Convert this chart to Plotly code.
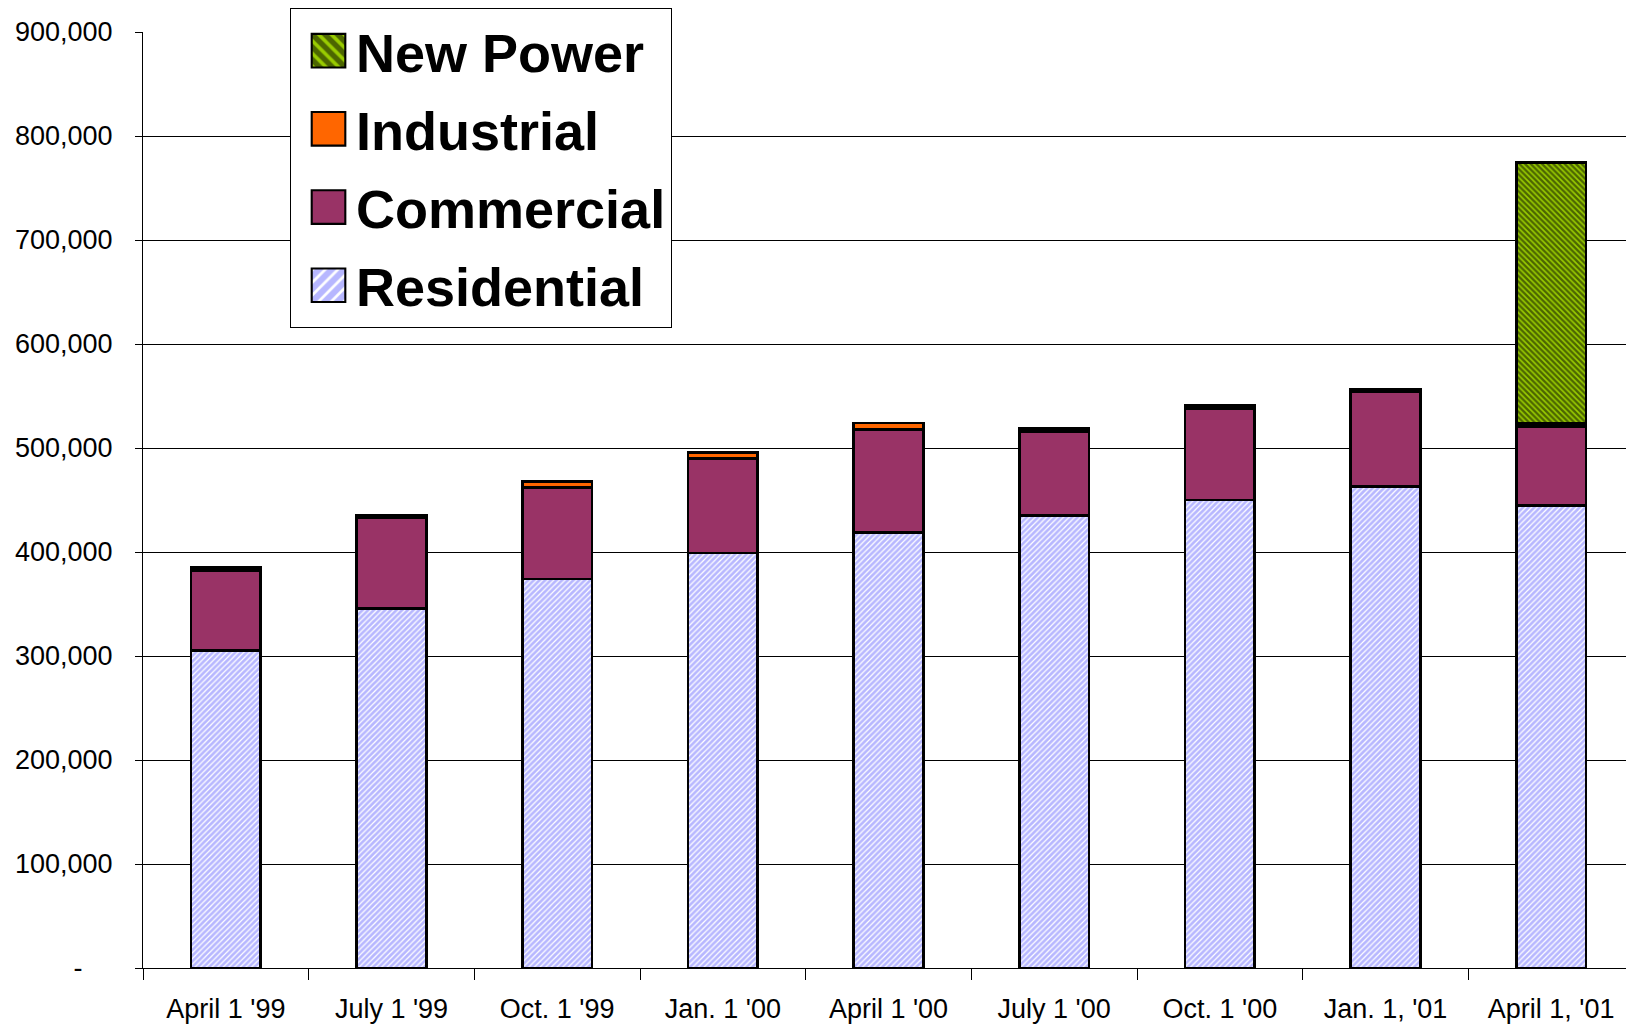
import plotly.graph_objects as go

categories = ["April 1 '99", "July 1 '99", "Oct. 1 '99", "Jan. 1 '00", "April 1 '00",
              "July 1 '00", "Oct. 1 '00", "Jan. 1, '01", "April 1, '01"]
residential = [305000, 346000, 374000, 399000, 419000, 435000, 450000, 463000, 445000]
commercial = [77000, 87000, 88000, 91000, 99000, 81000, 88000, 91000, 76000]
industrial = [3000, 2500, 6000, 6000, 6000, 2500, 3000, 2500, 2500]
new_power = [None, None, None, None, None, None, None, None, 251000]

y_tickvals = [0, 100000, 200000, 300000, 400000, 500000, 600000, 700000, 800000, 900000]
y_ticktext = ["-\u00a0\u00a0\u00a0\u00a0", "100,000", "200,000", "300,000", "400,000",
              "500,000", "600,000", "700,000", "800,000", "900,000"]

FONT = "Arial, Liberation Sans, sans-serif"
OUT = dict(color="black", width=2.8)

fig = go.Figure()
fig.add_trace(go.Bar(
    x=categories, y=residential, name="Residential", legendgroup="r", legendrank=4,
    marker=dict(color="white", line=OUT,
                pattern=dict(shape="/", fgcolor="#6f6fff", bgcolor="white",
                             size=4, solidity=0.7)),
))
fig.add_trace(go.Bar(
    x=categories, y=commercial, name="Commercial", legendgroup="c", legendrank=3,
    marker=dict(color="#993366", line=OUT),
))
fig.add_trace(go.Bar(
    x=categories, y=industrial, name="Industrial", legendgroup="i", legendrank=2,
    marker=dict(color="#ff6600", line=OUT),
))
fig.add_trace(go.Bar(
    x=categories, y=new_power, name="New Power", legendgroup="n", legendrank=1,
    marker=dict(color="#99cc00", line=OUT,
                pattern=dict(shape="\\", fgcolor="black", bgcolor="#99cc00",
                             size=4, solidity=0.6)),
))

fig.update_layout(
    barmode="stack",
    bargap=0.58,
    width=1626, height=1016,
    margin=dict(l=135, r=0, t=24, b=56, pad=0, autoexpand=False),
    plot_bgcolor="white", paper_bgcolor="white",
    font=dict(family=FONT, color="black", size=27),
    showlegend=True,
    legend=dict(
        x=0.0986, y=1.0256, xanchor="left", yanchor="top",
        bgcolor="white", bordercolor="black", borderwidth=1,
        font=dict(family=FONT, size=54, color="black", weight="bold"),
        traceorder="grouped", tracegroupgap=5,
        itemwidth=55,
    ),
    xaxis=dict(
        showline=True, linecolor="black", linewidth=1,
        ticks="outside", ticklen=11, tickcolor="black", tickson="boundaries",
        tickfont=dict(size=27), showgrid=False, ticklabelstandoff=17,
    ),
    yaxis=dict(
        range=[0, 900000],
        tickvals=y_tickvals, ticktext=y_ticktext,
        showline=True, linecolor="black", linewidth=1,
        ticks="outside", ticklen=7, tickcolor="black",
        showgrid=True, gridcolor="black", gridwidth=1,
        tickfont=dict(size=27), ticklabelstandoff=17,
        zeroline=False,
    ),
)

post = """
document.querySelectorAll('.legendpoints path').forEach(function(p){
  var t = p.getAttribute('transform') || '';
  p.setAttribute('transform', t + ' translate(5,0) scale(2.8)');
  p.style.strokeWidth = '0.75px';
});
"""
fig.write_html("out.html", post_script=post)
